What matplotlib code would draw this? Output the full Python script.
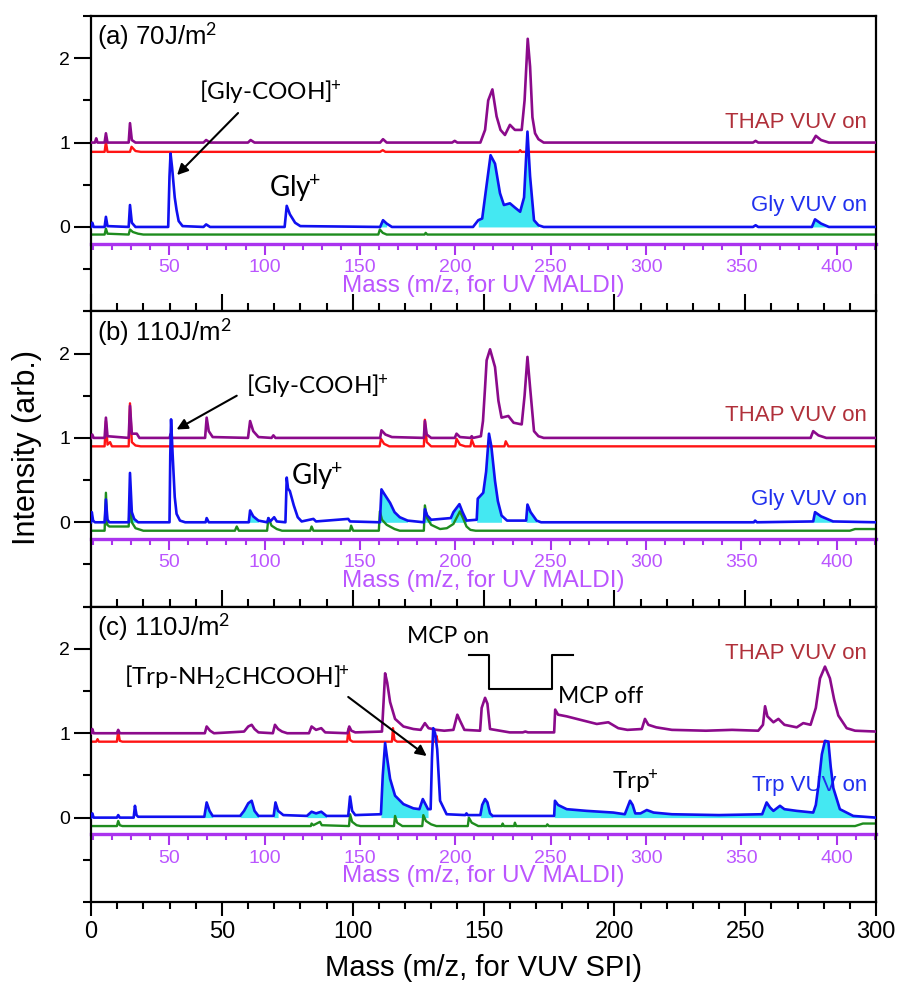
import numpy as np
import matplotlib
matplotlib.use('Agg')
import matplotlib.pyplot as plt
from matplotlib.ticker import MultipleLocator

plt.rcParams['font.family'] = ['Liberation Sans', 'DejaVu Sans']
plt.rcParams['mathtext.fontset'] = 'custom'
plt.rcParams['mathtext.rm'] = 'Lato'
plt.rcParams['mathtext.it'] = 'Lato:italic'
plt.rcParams['mathtext.bf'] = 'Lato:bold'
plt.rcParams['axes.linewidth'] = 1.6

# ---- colours ----
PURPLE = '#8B0A8B'
RED = '#FF1414'
BLUE = '#1010F0'
GREEN = '#1E8C1E'
CYAN = '#44E8F2'
VIOLET = '#AA33EE'
VIOLET_TXT = '#BB55FF'
THAP_TXT = '#B0303A'
NOTE_FONT = ['Lato', 'DejaVu Sans']
PLUS = r'$^{\!\!+}$'

# calibration of the UV MALDI mass axis against the VUV SPI axis
MALDI_REF = (50, 400)
SPI_REF = (29.9, 285.0)

# ---- panel (a) 70 J/m2, Gly ----
a_thap_on = [(0, 1.0), (1.5, 1.0), (2, 1.05), (2.5, 1.0), (5.2, 1.0), (5.7, 1.11), (6.3, 1.0),
             (14.4, 1.0), (14.9, 1.23), (15.6, 1.03), (17, 1.0), (43, 1.0), (44, 1.03), (45.5, 1.0),
             (60, 1.0), (61, 1.03), (62.5, 1.0), (110.5, 1.0), (111.6, 1.04), (113, 1.0), (138, 1.0),
             (139, 1.02), (140, 1.0), (148.8, 1.0), (150.6, 1.15), (151.8, 1.5), (153.4, 1.63),
             (155, 1.31), (156.5, 1.15), (158.2, 1.09), (160.1, 1.21), (162, 1.15), (164.6, 1.15),
             (165.7, 1.5), (166.9, 2.23), (167.8, 1.9), (168.7, 1.3), (169.7, 1.11), (171, 1.04),
             (173, 1.0), (253, 1.0), (254, 1.02), (255, 1.0), (275.5, 1.0), (277, 1.08), (279, 1.03),
             (282, 1.0), (300, 1.0)]
a_thap_off = [(0, 0.89), (5.2, 0.89), (5.7, 1.01), (6.3, 0.89), (14.9, 0.89), (15.5, 0.95),
              (17, 0.9), (19, 0.89), (110.5, 0.89), (111.5, 0.91), (112.5, 0.89), (163.5, 0.89),
              (164, 0.91), (164.5, 0.89), (300, 0.89)]
a_gly_on = [(0, 0.0), (0.5, 0.05), (1, 0.0), (5.2, 0.0), (5.7, 0.12), (6.3, 0.01), (14.4, 0.0),
            (14.9, 0.26), (15.6, 0.05), (17, 0.0), (29.5, 0.0), (30, 0.6), (30.4, 0.87), (31, 0.7),
            (32, 0.35), (32.7, 0.2), (33.5, 0.07), (35, 0.01), (43, 0.0), (44, 0.03), (45.5, 0.0),
            (74, 0.0), (74.8, 0.25), (76, 0.15), (78, 0.05), (80, 0.01), (110.5, 0.0), (111.6, 0.08),
            (113, 0.04), (115, 0.0), (146, 0.0), (148, 0.08), (149.5, 0.1), (151.2, 0.5),
            (152.7, 0.85), (154.4, 0.75), (156.3, 0.4), (157.8, 0.26), (160.1, 0.28), (162, 0.23),
            (164, 0.18), (165.5, 0.35), (166.8, 1.13), (167.8, 0.6), (169.3, 0.08), (171, 0.02),
            (173, 0.0), (253, 0.0), (254, 0.02), (255, 0.0), (275.5, 0.0), (276.7, 0.09),
            (279, 0.04), (282, 0.0), (300, 0.0)]
a_gly_off = [(0, -0.09), (5.2, -0.09), (5.7, -0.02), (6.3, -0.08), (14.4, -0.09), (14.9, -0.03),
             (16, -0.06), (18, -0.08), (20, -0.09), (109.8, -0.09), (110.4, -0.03), (111.5, -0.07),
             (113, -0.09), (127.5, -0.09), (127.9, -0.07), (128.5, -0.09), (300, -0.09)]
a_fill = [(109.5, 114), (147, 172.5), (275, 282)]

# ---- panel (b) 110 J/m2, Gly ----
b_thap_on = [(0, 1.0), (0.5, 1.04), (1, 1.0), (5.2, 1.0), (5.7, 1.24), (6.3, 1.02), (14.4, 1.0),
             (14.9, 1.38), (15.6, 1.05), (17.5, 1.05), (18.5, 1.0), (30, 1.0), (30.5, 1.05), (31, 1.0),
             (43.6, 1.0), (44.2, 1.24), (45, 1.08), (46.5, 1.01), (60, 1.0), (60.8, 1.2), (62, 1.08),
             (64, 1.01), (69, 1.0), (69.7, 1.03), (70.5, 1.0), (110.5, 1.0), (111, 1.09), (112.5, 1.04),
             (115, 1.01), (127.2, 1.0), (127.6, 1.2), (128.3, 1.04), (130, 1.0), (139, 1.0),
             (139.7, 1.05), (141, 1.01), (145, 1.0), (145.5, 1.02), (146, 1.0), (149, 1.02),
             (149.8, 1.2), (150.6, 1.6), (151.2, 1.92), (152.5, 2.05), (154.4, 1.84), (155.7, 1.44),
             (156.9, 1.24), (159.5, 1.26), (161.5, 1.18), (164.6, 1.16), (165.7, 1.5), (166.8, 1.96),
             (167.8, 1.6), (169.3, 1.08), (171, 1.02), (173, 1.0), (275, 1.0), (276, 1.08),
             (278, 1.03), (281, 1.0), (300, 1.0)]
b_thap_off = [(0, 0.9), (5.2, 0.9), (5.7, 1.2), (6.3, 0.92), (7.3, 0.95), (8, 0.9), (14.4, 0.9),
              (14.9, 1.41), (15.6, 0.95), (17, 0.91), (19, 0.9), (110.3, 0.9), (110.8, 0.99),
              (112, 0.93), (114, 0.9), (127.2, 0.9), (127.6, 1.215), (128.3, 0.95), (130, 0.9),
              (139.2, 0.9), (139.7, 0.99), (141, 0.92), (143, 0.9), (145, 0.9), (145.5, 0.98),
              (146.5, 0.9), (158, 0.9), (158.5, 0.96), (159.5, 0.9), (300, 0.9)]
b_gly_on = [(0, 0.0), (0.3, 0.12), (0.8, 0.02), (1.5, 0.0), (5.2, 0.0), (5.7, 0.27), (6.3, 0.03),
            (7, 0.0), (14.4, 0.0), (14.9, 0.585), (15.6, 0.12), (16.5, 0.04), (18, 0.0), (30, 0.0),
            (30.3, 0.8), (30.6, 1.22), (31.2, 0.8), (32, 0.3), (32.7, 0.1), (34, 0.02), (36, 0.0),
            (43.8, 0.0), (44.2, 0.05), (45, 0.0), (60.3, 0.0), (60.8, 0.14), (62, 0.07), (64, 0.02),
            (67.3, 0.0), (67.8, 0.05), (68.5, 0.01), (70, 0.06), (71, 0.01), (74.3, 0.0),
            (74.8, 0.53), (75.3, 0.4), (76, 0.37), (77.5, 0.2), (79, 0.06), (80.5, 0.01), (85, 0.04),
            (86, 0.01), (98.3, 0.04), (99, 0.01), (110.4, 0.0), (111, 0.39), (112, 0.34),
            (114.3, 0.23), (116, 0.12), (118, 0.06), (121, 0.02), (127.2, 0.0), (127.6, 0.155),
            (128.5, 0.08), (130, 0.03), (137.5, 0.05), (138.5, 0.12), (140.8, 0.215), (142, 0.12),
            (143.5, 0.02), (147.4, 0.03), (147.8, 0.28), (149.9, 0.35), (151, 0.6), (152.1, 1.05),
            (153, 0.9), (154.4, 0.49), (155.5, 0.25), (156.9, 0.08), (159, 0.02), (166.3, 0.02),
            (166.8, 0.21), (168, 0.12), (170.3, 0.02), (172, 0.0), (253.3, 0.0), (253.8, 0.02),
            (254.5, 0.0), (276, 0.01), (276.7, 0.12), (279, 0.07), (283.6, 0.01), (300, 0.0)]
b_gly_off = [(0, -0.1), (5.2, -0.1), (5.7, 0.35), (6.2, -0.03), (7, -0.05), (14.4, -0.05),
             (14.9, 0.25), (15.6, 0.0), (17, -0.07), (20, -0.1), (55, -0.1), (55.7, -0.05),
             (56.5, -0.1), (67.3, -0.1), (67.8, 0.05), (69, -0.04), (71, -0.08), (73, -0.1),
             (83.8, -0.1), (84.3, -0.05), (85, -0.1), (99, -0.1), (99.4, -0.04), (100.2, -0.1),
             (110, -0.1), (110.4, 0.13), (111.2, 0.03), (113, -0.03), (116, -0.08), (118, -0.1),
             (127.2, -0.1), (127.6, 0.2), (128.4, 0.05), (130, -0.03), (133.4, -0.08), (136, -0.07),
             (138.5, -0.02), (141, 0.13), (142.3, 0.04), (143.5, -0.05), (145, -0.09), (147, -0.1),
             (290, -0.1), (292, -0.08), (300, -0.08)]
b_fill = [(14.4, 18), (57, 66), (109.8, 122), (126.8, 130), (137, 144), (147.3, 158),
          (165.8, 171), (275.5, 283.6)]

# ---- panel (c) 110 J/m2, Trp ----
c_thap_on = [(0, 1.0), (0.5, 1.05), (1, 1.0), (9.9, 1.0), (10.4, 1.04), (11, 1.0), (43.5, 1.0),
             (44.2, 1.08), (45.5, 1.03), (47, 1.0), (58.5, 1.02), (60.1, 1.08), (61.4, 1.1),
             (62.5, 1.05), (64, 1.01), (69.5, 1.0), (70.3, 1.1), (71.5, 1.05), (73, 1.02), (75, 1.0),
             (83.3, 1.0), (84.3, 1.08), (86, 1.04), (88, 1.06), (89.5, 1.01), (98, 1.0), (98.7, 1.08),
             (99.5, 1.03), (101, 1.01), (111.2, 1.02), (112.4, 1.71), (113.2, 1.6), (114.3, 1.37),
             (116.2, 1.17), (119.4, 1.08), (123.2, 1.05), (126, 1.04), (127.6, 1.12), (129, 1.06),
             (132, 1.04), (135, 1.03), (138.5, 1.04), (140, 1.22), (141, 1.15), (142.7, 1.04),
             (148.7, 1.03), (149.3, 1.3), (150.6, 1.42), (151.5, 1.35), (152.5, 1.05), (160, 1.01),
             (165, 1.01), (166, 1.02), (167, 1.01), (177, 1.01), (177.4, 1.28), (178.5, 1.22),
             (181.8, 1.2), (186.9, 1.16), (193.3, 1.11), (197.7, 1.13), (201.5, 1.06), (205, 1.04),
             (210.5, 1.05), (211.7, 1.17), (213, 1.1), (216, 1.07), (222, 1.04), (235, 1.03),
             (245, 1.04), (255, 1.03), (256.8, 1.1), (257.6, 1.32), (258.5, 1.2), (260.8, 1.13),
             (262.7, 1.17), (265, 1.1), (269.7, 1.07), (272.2, 1.12), (275, 1.1), (277, 1.3),
             (278.6, 1.65), (280.5, 1.79), (282.4, 1.65), (284, 1.4), (285.6, 1.21), (288.8, 1.06),
             (292, 1.03), (300, 1.02)]
c_thap_off = [(0, 0.9), (2, 0.9), (2.5, 0.93), (3, 0.9), (9.9, 0.9), (10.4, 1.03), (11, 0.91),
              (12, 0.9), (97.9, 0.9), (98.4, 1.05), (99, 0.92), (100, 0.9), (115, 0.9),
              (115.4, 1.06), (116, 0.92), (117, 0.9), (131.7, 0.9), (132, 0.97), (132.5, 0.9),
              (300, 0.9)]
c_trp_on = [(0, 0.0), (0.5, 0.05), (1, 0.0), (9.9, 0.0), (10.4, 0.03), (11, 0.0), (16.3, 0.0),
            (16.8, 0.14), (17.4, 0.03), (18, 0.01), (43.3, 0.01), (44.2, 0.18), (45.3, 0.08),
            (46.5, 0.02), (57, 0.02), (58.5, 0.08), (60.1, 0.17), (61.4, 0.2), (62.5, 0.08),
            (64, 0.02), (69.8, 0.02), (70.5, 0.18), (71.5, 0.08), (73.5, 0.03), (82.5, 0.02),
            (84.3, 0.07), (86, 0.05), (88, 0.07), (90, 0.02), (98.3, 0.02), (99, 0.25), (99.8, 0.08),
            (101, 0.03), (110.8, 0.04), (111.5, 0.5), (112.4, 0.885), (113.2, 0.7), (114.3, 0.46),
            (116.2, 0.26), (119.4, 0.16), (123.2, 0.11), (125.5, 0.1), (126.8, 0.22),
            (128.8, 0.1), (129.8, 0.1), (130.3, 0.7), (130.8, 1.06), (131.5, 1.0), (132.3, 0.81),
            (133.4, 0.2), (135.9, 0.04), (143, 0.03), (143.5, 0.05), (144, 0.03), (148.8, 0.03),
            (149.5, 0.15), (150.6, 0.22), (151.5, 0.18), (152.5, 0.05), (153.5, 0.02), (177, 0.02),
            (177.3, 0.2), (178.5, 0.15), (181.8, 0.1), (189.4, 0.08), (199.6, 0.06), (204, 0.04),
            (205, 0.12), (206, 0.2), (207, 0.15), (208, 0.05), (210, 0.05), (212.4, 0.09),
            (215, 0.06), (222, 0.04), (240, 0.03), (256.5, 0.04), (258.2, 0.18), (259.5, 0.12),
            (260.8, 0.08), (263.3, 0.14), (265, 0.1), (269.7, 0.08), (276, 0.06), (277, 0.15),
            (278, 0.38), (279.3, 0.75), (280.5, 0.91), (281.8, 0.9), (282.7, 0.6), (283.7, 0.35),
            (286.2, 0.1), (291.3, 0.02), (300, 0.0)]
c_trp_off = [(0, -0.1), (9.9, -0.1), (10.4, -0.04), (11, -0.09), (12, -0.1), (84, -0.1),
             (84.3, -0.07), (85, -0.09), (87.5, -0.05), (88.2, -0.09), (98.6, -0.1), (99, 0.04),
             (99.8, -0.05), (101.5, -0.09), (103, -0.1), (115.8, -0.1), (116.2, 0.02), (117, -0.06),
             (119, -0.1), (126.6, -0.1), (127, 0.03), (128, -0.04), (130, -0.08), (132, -0.1),
             (144, -0.1), (144.4, 0.0), (145.5, -0.06), (148, -0.1), (157, -0.1), (157.3, -0.07),
             (157.8, -0.1), (161.7, -0.1), (162, -0.06), (162.5, -0.1), (174, -0.1), (174.4, -0.08),
             (175, -0.1), (292, -0.1), (295, -0.07), (300, -0.07)]
c_fill = [(42.8, 47), (56.5, 64.5), (69.5, 73), (82, 90.5), (110.8, 129.6), (148.6, 153.5),
          (176.9, 300)]

# MCP gate trace drawn in panel (c)
mcp_gate = [(144.6, 1.93), (152.2, 1.93), (152.2, 1.53), (176.1, 1.53), (176.1, 1.93), (184.1, 1.93)]

panel_labels = ['(a) 70J/m$^2$', '(b) 110J/m$^2$', '(c) 110J/m$^2$']
sample_labels = ['Gly VUV on', 'Gly VUV on', 'Trp VUV on']
thap_label_y = [1.24, 1.26, 1.94]
sample_label_y = [0.26, 0.27, 0.38]


def spi_to_maldi(x):
    k = (MALDI_REF[1] - MALDI_REF[0]) / (SPI_REF[1] - SPI_REF[0])
    return MALDI_REF[0] + (np.asarray(x) - SPI_REF[0]) * k


def maldi_to_spi(m):
    k = (SPI_REF[1] - SPI_REF[0]) / (MALDI_REF[1] - MALDI_REF[0])
    return SPI_REF[0] + (np.asarray(m) - MALDI_REF[0]) * k


def xy(points):
    arr = np.array(points, dtype=float)
    return arr[:, 0], arr[:, 1]


fig, axes = plt.subplots(3, 1, figsize=(8.97, 9.89), dpi=100, sharex=True,
                         gridspec_kw=dict(hspace=0))
fig.subplots_adjust(left=91 / 897, right=876 / 897, top=1 - 16 / 989, bottom=1 - 902 / 989)

panels = [
    (a_thap_on, a_thap_off, a_gly_on, a_gly_off, a_fill),
    (b_thap_on, b_thap_off, b_gly_on, b_gly_off, b_fill),
    (c_thap_on, c_thap_off, c_trp_on, c_trp_off, c_fill),
]

ylo, yhi = -1.0, 2.5
for i, (ax, (thap_on, thap_off, samp_on, samp_off, fills)) in enumerate(zip(axes, panels)):
    x_on, y_on = xy(samp_on)
    for lo, hi in fills:
        m = (x_on >= lo) & (x_on <= hi)
        ax.fill_between(x_on, 0, y_on, where=m, color=CYAN, lw=0, zorder=1)
    ax.plot(*xy(samp_off), color=GREEN, lw=1.7, zorder=2)
    ax.plot(*xy(thap_off), color=RED, lw=1.7, zorder=2)
    ax.plot(*xy(thap_on), color=PURPLE, lw=1.9, zorder=3)
    ax.plot(x_on, y_on, color=BLUE, lw=1.9, zorder=4)

    ax.set_xlim(0, 300)
    ax.set_ylim(ylo, yhi)
    ax.set_yticks([0, 1, 2])
    ax.yaxis.set_minor_locator(MultipleLocator(0.5))
    ax.xaxis.set_major_locator(MultipleLocator(50))
    ax.xaxis.set_minor_locator(MultipleLocator(10))
    ax.tick_params(axis='y', which='major', direction='out', length=12, width=1.5, labelsize=14, pad=3)
    ax.tick_params(axis='y', which='minor', direction='out', length=6, width=1.5)
    if i < 2:
        ax.tick_params(axis='x', which='major', direction='in', length=12, width=1.5, labelbottom=False)
        ax.tick_params(axis='x', which='minor', direction='in', length=6, width=1.5)
    else:
        ax.tick_params(axis='x', which='major', direction='out', length=10, width=1.5, labelsize=17, pad=4)
        ax.tick_params(axis='x', which='minor', direction='out', length=5, width=1.5)

    # UV MALDI mass axis at y = -0.2
    sec = ax.secondary_xaxis((-0.2 - ylo) / (yhi - ylo), functions=(spi_to_maldi, maldi_to_spi))
    sec.spines['bottom'].set_color(VIOLET)
    sec.spines['bottom'].set_linewidth(2.4)
    sec.set_xticks(np.arange(50, 401, 50))
    sec.xaxis.set_minor_locator(MultipleLocator(10))
    sec.tick_params(axis='x', which='major', colors=VIOLET, labelcolor=VIOLET_TXT,
                    direction='out', length=8, width=1.5, labelsize=14, pad=3)
    sec.tick_params(axis='x', which='minor', colors=VIOLET, direction='out', length=4, width=1.5)
    sec.set_xlabel('Mass (m/z, for UV MALDI)', color=VIOLET_TXT, fontsize=17.5, labelpad=-1)

    ax.text(2.3, 2.26, panel_labels[i], fontsize=18.5, ha='left', va='center')
    ax.text(296.6, thap_label_y[i], 'THAP VUV on', color=THAP_TXT, fontsize=16,
            ha='right', va='center', zorder=1)
    ax.text(296.6, sample_label_y[i], sample_labels[i], color='#2030EE', fontsize=16,
            ha='right', va='center', zorder=1)

ax_a, ax_b, ax_c = axes
arrow = dict(arrowstyle='-|>', color='k', lw=1.5, mutation_scale=16, shrinkA=0, shrinkB=0)

ax_a.text(68.4, 1.6, '[Gly-COOH]' + PLUS, fontsize=17.5, family=NOTE_FONT, ha='center', va='center')
ax_a.annotate('', xy=(32.9, 0.615), xytext=(56.2, 1.35), arrowprops=arrow)
ax_a.text(78, 0.46, 'Gly' + PLUS, fontsize=20, family=NOTE_FONT, ha='center', va='center')

ax_b.text(86.4, 1.61, '[Gly-COOH]' + PLUS, fontsize=17.5, family=NOTE_FONT, ha='center', va='center')
ax_b.annotate('', xy=(32.7, 1.10), xytext=(55.7, 1.50), arrowprops=arrow)
ax_b.text(86.4, 0.55, 'Gly' + PLUS, fontsize=20, family=NOTE_FONT, ha='center', va='center')

ax_c.text(55.7, 1.66, '[Trp-NH$_2$CHCOOH]' + PLUS, fontsize=17.5, family=NOTE_FONT,
          ha='center', va='center')
ax_c.annotate('', xy=(128.3, 0.73), xytext=(98.3, 1.43), arrowprops=arrow)
ax_c.plot(*xy(mcp_gate), color='k', lw=1.5, zorder=5)
ax_c.text(136.5, 2.15, 'MCP on', fontsize=16.5, family=NOTE_FONT, ha='center', va='center')
ax_c.text(178.5, 1.43, 'MCP off', fontsize=16.5, family=NOTE_FONT, ha='left', va='center')
ax_c.text(208, 0.42, 'Trp' + PLUS, fontsize=17.5, family=NOTE_FONT, ha='center', va='center')

fig.text(27 / 897, 1 - 448 / 989, 'Intensity (arb.)', rotation=90, fontsize=22,
         ha='center', va='center')
fig.text(483.5 / 897, 1 - 968 / 989, 'Mass (m/z, for VUV SPI)', fontsize=21,
         ha='center', va='center')

fig.savefig('out.png', dpi=100)
